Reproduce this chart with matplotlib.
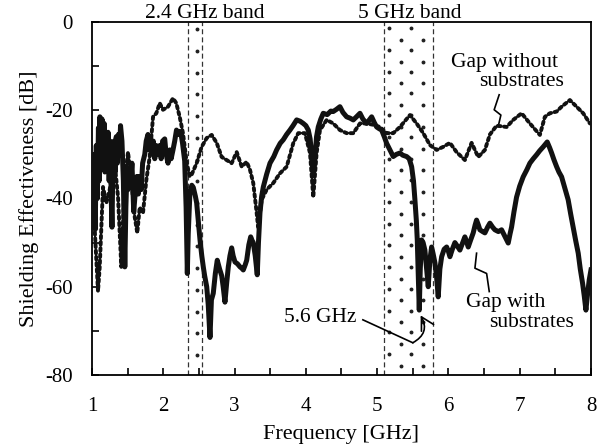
import numpy as np
import matplotlib
matplotlib.use('Agg')
import matplotlib.pyplot as plt
from matplotlib.ticker import MultipleLocator

plt.rcParams['font.family'] = ['Liberation Serif', 'DejaVu Serif']
plt.rcParams['axes.unicode_minus'] = False

# gap with substrates (solid)
f_with = [1.00, 1.01, 1.02, 1.03, 1.045, 1.06, 1.075, 1.09, 1.10, 1.11, 1.125, 1.14, 1.155, 1.17, 1.18,
          1.19, 1.21, 1.225, 1.24, 1.255, 1.27, 1.28, 1.295, 1.31, 1.325, 1.34, 1.355, 1.37, 1.385, 1.40,
          1.42, 1.44, 1.46, 1.475, 1.49, 1.505, 1.52, 1.54, 1.56, 1.585, 1.61, 1.63, 1.65, 1.67, 1.69,
          1.71, 1.74, 1.76, 1.785, 1.80, 1.82, 1.845, 1.86, 1.88, 1.90, 1.92, 1.95, 1.97, 1.99, 2.02,
          2.04, 2.066, 2.09, 2.11, 2.136, 2.16, 2.185, 2.21, 2.23, 2.25, 2.27, 2.30, 2.32, 2.337, 2.35,
          2.374, 2.40, 2.421, 2.45, 2.468, 2.49, 2.515, 2.54, 2.561, 2.58, 2.609, 2.63, 2.655, 2.675, 2.701,
          2.73, 2.757, 2.79, 2.819, 2.84, 2.865, 2.89, 2.912, 2.935, 2.959, 2.98, 3.006, 3.04, 3.076, 3.10,
          3.122, 3.15, 3.17, 3.20, 3.226, 3.245, 3.262, 3.29, 3.318, 3.335, 3.356, 3.38, 3.403, 3.45, 3.497,
          3.55, 3.59, 3.64, 3.683, 3.73, 3.777, 3.82, 3.871, 3.92, 3.964, 4.00, 4.034, 4.06, 4.08, 4.104,
          4.13, 4.15, 4.174, 4.21, 4.244, 4.30, 4.35, 4.384, 4.43, 4.478, 4.52, 4.572, 4.62, 4.665, 4.71,
          4.759, 4.80, 4.853, 4.89, 4.923, 4.96, 4.993, 5.03, 5.063, 5.10, 5.133, 5.18, 5.226, 5.27, 5.32,
          5.36, 5.414, 5.45, 5.484, 5.51, 5.53, 5.55, 5.563, 5.575, 5.591, 5.605, 5.624, 5.645, 5.67, 5.695,
          5.717, 5.74, 5.764, 5.785, 5.811, 5.835, 5.857, 5.88, 5.905, 5.94, 5.975, 6.00, 6.021, 6.055, 6.091,
          6.125, 6.161, 6.20, 6.231, 6.255, 6.278, 6.31, 6.348, 6.375, 6.395, 6.42, 6.442, 6.48, 6.512, 6.55,
          6.582, 6.62, 6.652, 6.70, 6.746, 6.79, 6.839, 6.865, 6.886, 6.92, 6.956, 7.00, 7.049, 7.10, 7.143,
          7.19, 7.237, 7.28, 7.33, 7.36, 7.386, 7.42, 7.448, 7.48, 7.518, 7.55, 7.588, 7.63, 7.68, 7.715,
          7.75, 7.785, 7.821, 7.85, 7.882, 7.905, 7.929, 7.95, 7.975, 8.00]
se_with = [-39, -33, -44, -30, -47, -28, -40, -24, -36, -21.5, -30, -22, -33, -23, -34,
           -25, -31, -25, -36, -27, -40, -46.5, -30, -27, -34, -26, -32, -25.5, -30, -23.5,
           -27, -36, -55.5, -42, -34, -38, -33, -36.5, -32, -43, -38, -35, -39, -35, -38,
           -32, -30, -27, -25.5, -29, -26, -30, -27, -31, -28, -30, -28, -31, -27, -26.5,
           -30, -32, -29, -31, -29, -27, -24.5, -25.5, -24.8, -25.5, -27.5, -31.5, -42, -57, -48,
           -38.5, -37, -37.5, -39.5, -41, -45, -49.4, -53, -55.5, -57.5, -60, -64, -71.5, -63, -61.5,
           -57, -54, -56, -57.5, -60, -63.5, -59, -55.5, -53, -51.2, -53, -54.4, -54.8, -55.5, -55.8,
           -56.2, -55, -54, -50.5, -48.7, -49.5, -50, -53, -57.3, -50, -43.3, -39.5, -37.4, -34.5, -32,
           -30.5, -29, -27.5, -26.7, -25.5, -24.5, -23.5, -22.2, -22.5, -23, -23.5, -24.5, -26.5, -30, -34,
           -30, -26, -23.8, -22, -20.7, -21, -20.2, -20.3, -19.8, -19.2, -20.5, -21.5, -21.8, -22.2, -21.5,
           -20.7, -22, -23, -22.2, -21.5, -22.8, -23.8, -24.2, -24.5, -26, -27.5, -29, -30.5, -30, -29.7,
           -30.2, -30.5, -31, -32.8, -36, -40.3, -45, -49.4, -56, -65.3, -56, -49.4, -50, -51.7, -56,
           -60, -54, -51, -52.5, -54.6, -58, -62.3, -56, -53.2, -51.5, -51, -52, -53.2, -51.5, -50,
           -50.8, -51.7, -50, -48.7, -49.8, -51, -49.5, -47.8, -46, -44.9, -46, -47.1, -47.5, -47.8, -46.5,
           -45.6, -46.5, -47.1, -47.5, -47.1, -48.5, -50.1, -48, -46.5, -43, -39.7, -37.2, -35.1, -33.5, -32,
           -31, -30.1, -29.2, -28.3, -27.7, -27.2, -28.5, -29.7, -31.2, -32.8, -34, -35.1, -37.5, -40.3, -43.5,
           -46.5, -49.5, -52.4, -56, -59.2, -62, -65.3, -62, -58.5, -56.2]

# gap without substrates (dotted)
f_without = [1.00, 1.038, 1.084, 1.108, 1.154, 1.201, 1.248, 1.318, 1.365, 1.411, 1.459, 1.505, 1.551,
             1.599, 1.635, 1.669, 1.715, 1.762, 1.809, 1.856, 1.902, 1.95, 1.996, 2.066, 2.136, 2.182,
             2.23, 2.276, 2.33, 2.37, 2.40, 2.468, 2.538, 2.609, 2.679, 2.749, 2.819, 2.889, 2.959, 3.03,
             3.10, 3.17, 3.216, 3.262, 3.31, 3.33, 3.38, 3.45, 3.543, 3.637, 3.731, 3.823, 3.893, 3.987,
             4.058, 4.104, 4.151, 4.198, 4.292, 4.384, 4.478, 4.572, 4.665, 4.759, 4.853, 4.945, 5.039,
             5.133, 5.226, 5.32, 5.46, 5.554, 5.647, 5.741, 5.835, 5.927, 6.021, 6.115, 6.231, 6.325,
             6.418, 6.512, 6.582, 6.676, 6.816, 6.909, 7.027, 7.143, 7.283, 7.353, 7.423, 7.518, 7.588,
             7.704, 7.798, 7.891, 7.985]
se_without = [-42, -47, -61, -55.5, -37.4, -41, -38, -32, -39.7, -55.5, -35.8, -29.5, -35.8,
              -44.2, -47.8, -42, -43.3, -35.8, -30.6, -21.5, -20.7, -18.4, -19.9, -19.2, -17.3, -18.4,
              -21.5, -25.2, -32, -35, -34.5, -32, -28.3, -26.3, -25.6, -27.4, -30.6, -31.3, -32, -29.5,
              -32.8, -31.7, -33.5, -36.5, -43.3, -46.5, -40.3, -38, -36.5, -34.3, -32.8, -27.5, -25.2, -25.2,
              -29.7, -39.7, -29.7, -24.5, -22.2, -23, -24.5, -25.2, -25.2, -23, -23, -23.3, -23.8,
              -25.2, -25.2, -23.8, -21.1, -23, -25.2, -27.9, -29, -28.3, -27.4, -29.5, -31.3, -27.4,
              -30.6, -29, -25.5, -23.5, -23.8, -22.2, -20.7, -23, -25.6, -21.5, -20.7, -20.3, -19.2,
              -17.7, -19.2, -20.7, -23]

band24 = [2.342, 2.538]
band5 = [5.10, 5.79]

fig = plt.figure(figsize=(6.07, 4.48), dpi=100)
ax = fig.add_axes([0.1516, 0.163, 0.822, 0.788])

ax.plot(f_without, se_without, color='#111111', lw=2.8, ls=(0, (0.7, 0.9)),
        dash_capstyle='round', zorder=3)
ax.plot(f_with, se_with, color='#111111', lw=3.6, solid_joinstyle='round', zorder=4)

# band edges
for xb in band24 + band5:
    ax.axvline(xb, color='#333333', lw=0.9, ls=(0, (4, 2.5)), zorder=2)

# dot pattern inside the bands
ys = np.arange(-1.66, -80, -4.92)
ax.plot(np.full(len(ys), 2.47), ys, ls='none', marker='o', ms=1.8, color='#222222', zorder=2)
cols5 = [5.17, 5.33, 5.48, 5.64]
for i, xc in enumerate(cols5):
    y0 = -1.43 if i % 2 == 0 else -4.08
    ys = np.arange(y0, -80, -4.92)
    ax.plot(np.full(len(ys), xc), ys, ls='none', marker='o', ms=1.8, color='#222222', zorder=2)

ax.set_xlim(1, 8)
ax.set_ylim(-80, 0)
ax.xaxis.set_major_locator(MultipleLocator(1))
ax.xaxis.set_minor_locator(MultipleLocator(0.5))
ax.yaxis.set_major_locator(MultipleLocator(20))
ax.yaxis.set_minor_locator(MultipleLocator(10))
ax.tick_params(which='both', direction='in', top=False, right=False, labelsize=15, width=1.2)
ax.tick_params(which='major', length=5)
ax.tick_params(which='minor', length=5)
ax.tick_params(axis='x', which='major', pad=16)
ax.tick_params(axis='y', which='major', pad=14)
for s in ax.spines.values():
    s.set_linewidth(1.3)

ax.set_xlabel('Frequency [GHz]', fontsize=16, labelpad=6)
ax.set_ylabel('Shielding Effectiveness [dB]', fontsize=16, labelpad=4)

ax.text(2.585, 0.9, '2.4 GHz band', fontsize=15.5, ha='center', va='baseline')
ax.text(5.46, 0.9, '5 GHz band', fontsize=15.5, ha='center', va='baseline')

ax.text(6.78, -9.3, 'Gap without', fontsize=15.5, ha='center', va='center')
ax.text(7.02, -13.4, 'substrates', fontsize=15.5, ha='center', va='center')
ax.plot([6.712, 6.642, 6.736, 6.698], [-16.5, -19.9, -21.1, -23.7], color='k', lw=1.2)

ax.text(6.81, -63.5, 'Gap with', fontsize=15.5, ha='center', va='center')
ax.text(7.17, -68.2, 'substrates', fontsize=15.5, ha='center', va='center')
ax.plot([6.395, 6.372, 6.536, 6.573], [-52.4, -55.8, -57.0, -61.1], color='k', lw=1.2)

ax.text(4.2, -66.9, '5.6 GHz', fontsize=15.5, ha='center', va='center')
ax.plot([4.80, 5.50], [-67.5, -72.7], color='k', lw=1.2)
ax.annotate('', xy=(5.61, -66.5), xytext=(5.50, -72.7),
            arrowprops=dict(arrowstyle='->,head_length=0.45,head_width=0.25', color='k', lw=1.2,
                            shrinkA=0, shrinkB=0,
                            connectionstyle='arc3,rad=0.5', mutation_scale=20))

fig.savefig('out.png', dpi=100)
